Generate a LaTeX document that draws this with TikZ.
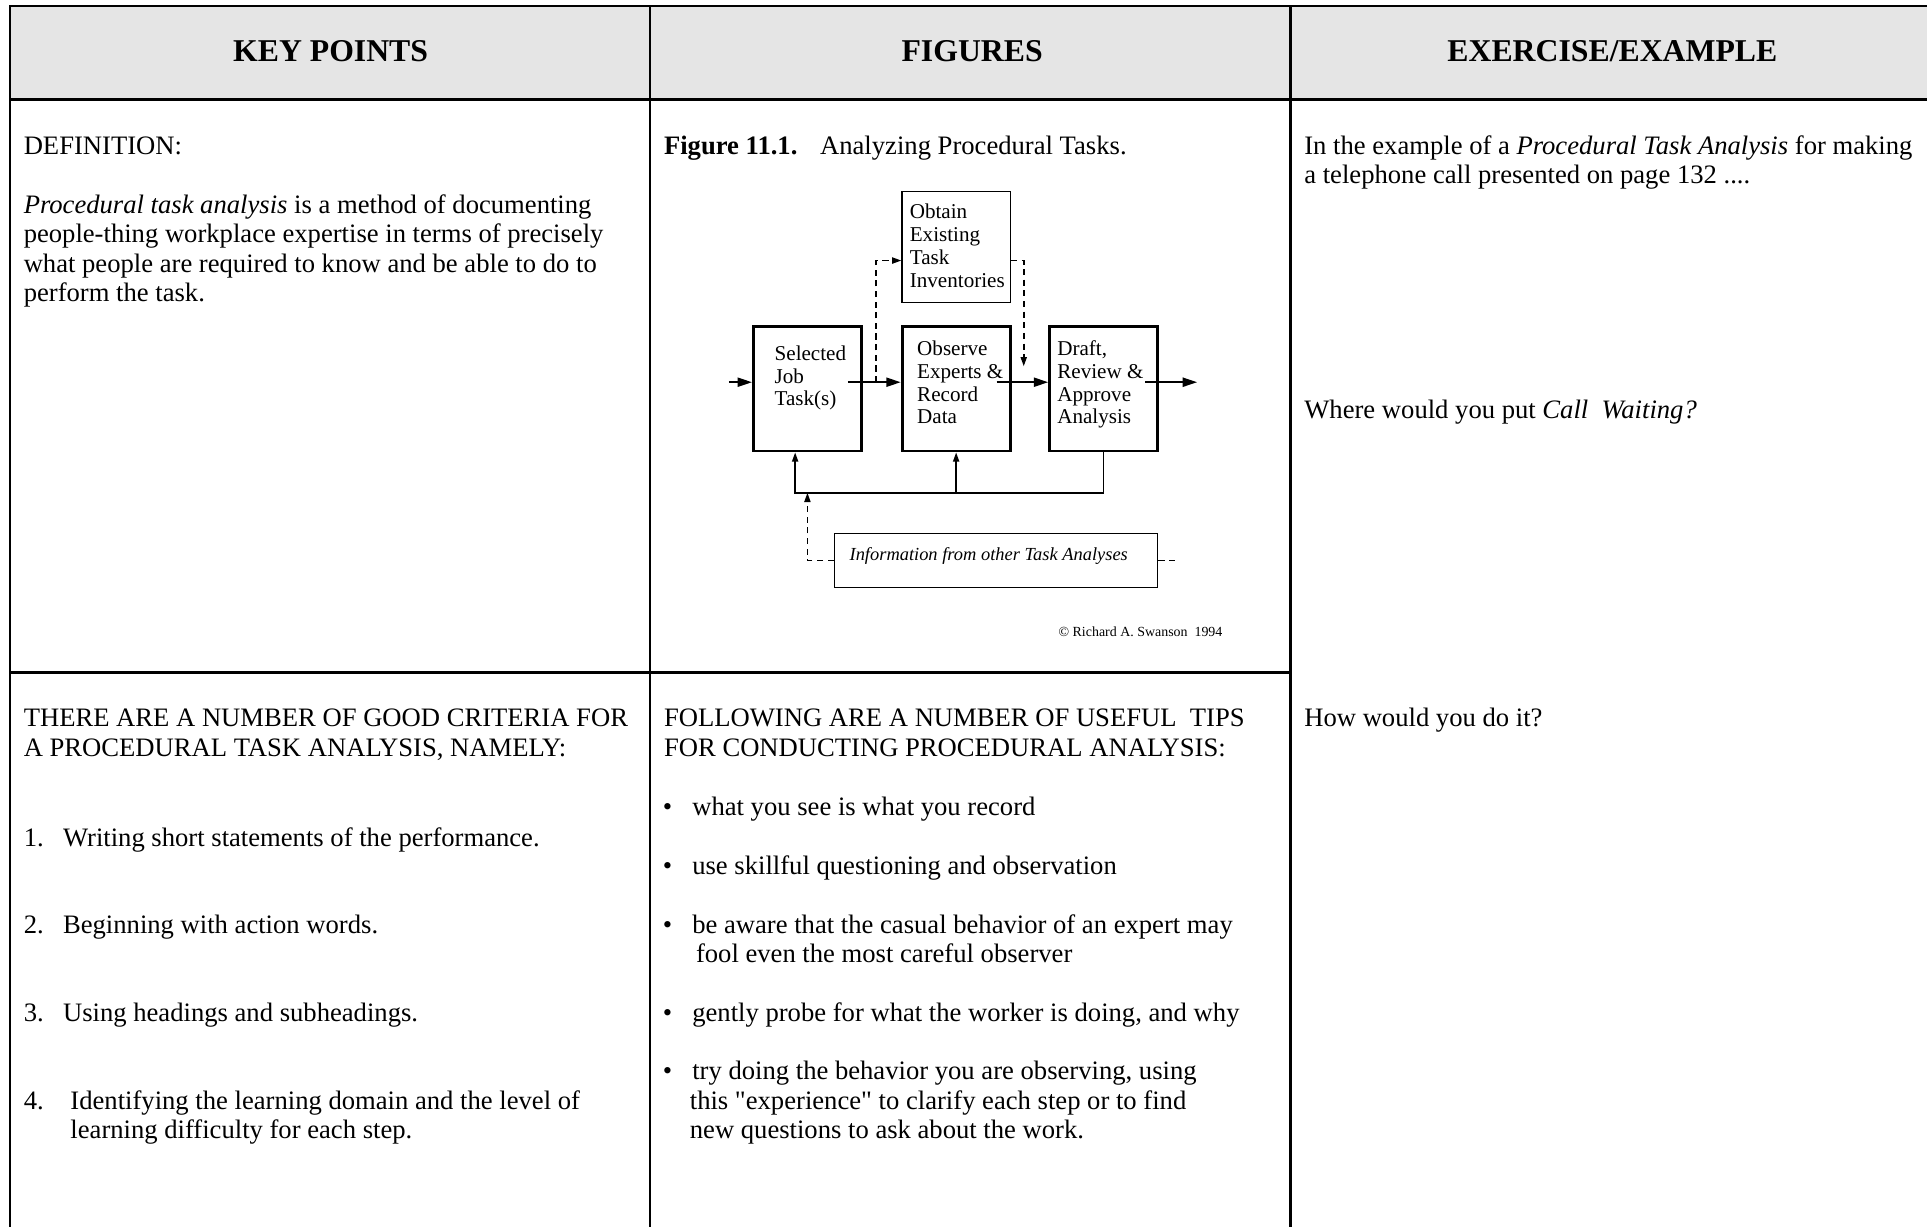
\documentclass[tikz,border=0pt]{standalone}
\usepackage{fontspec}
\setmainfont{Liberation Serif}
\usetikzlibrary{arrows.meta}
\definecolor{hdrgray}{RGB}{229,229,229}
\newcommand\lns[1]{\begin{tabular}[t]{@{}l@{}}#1\end{tabular}}
\newcommand\sq{\XeTeXglyph\XeTeXcharglyph"22\relax}
\tikzset{
 body/.style={anchor=base west, inner sep=0pt, font=\fontsize{13}{14.4}\selectfont},
 hdr/.style={anchor=base, inner sep=0pt, font=\fontsize{15.5}{18}\selectfont\bfseries},
 figtxt/.style={anchor=base west, inner sep=0pt, font=\fontsize{10.3}{11.2}\selectfont},
 tabrule/.style={line width=1.3pt, line join=miter},
 thickbox/.style={draw, line width=1.4pt, minimum width=52.8pt, minimum height=60.6pt, inner sep=0pt},
 thinbox/.style={draw, line width=0.7pt, inner sep=0pt},
 flow/.style={line width=0.75pt, -{Triangle[length=7pt,width=4.5pt]}},
 smallarr/.style={line width=0.75pt, -{Triangle[length=4.5pt,width=3pt]}},
 dsh/.style={line width=0.75pt, dash pattern=on 3pt off 2.2pt},
}
\begin{document}
\begin{tikzpicture}[x=0.6pt,y=-0.6pt]
\useasboundingbox (0,0) rectangle (1568,998);
% header background
\fill[hdrgray] (8,5) rectangle (1568,81);
% table rules
\draw[tabrule] (1568,5) -- (8,5) -- (8,998);
\draw[tabrule] (8,81) -- (1568,81);
\draw[tabrule] (529,5) -- (529,998);
\draw[tabrule] (1050,5) -- (1050,998);
\draw[tabrule] (8,547) -- (1050,547);
% headers
\node[hdr] (h1) at (269,50) {KEY POINTS};
\node[hdr] (h2) at (791,50) {FIGURES};
\node[hdr] (h3) at (1312,50) {EXERCISE/EXAMPLE};
% column 1
\node[body] (def) at (19,125.5) {DEFINITION:};
\node[body] (par) at (19,173.5) {\lns{\textit{Procedural task analysis} is a method of documenting\\ people-thing workplace expertise in terms of precisely\\ what people are required to know and be able to do to\\ perform the task.}};
\node[body] (crit) at (19,591.5) {\lns{THERE ARE A NUMBER OF GOOD CRITERIA FOR\\ A PROCEDURAL TASK ANALYSIS, NAMELY:}};
\node[body] (n1) at (19,688.5) {1.};
\node[body] (t1) at (51,688.5) {Writing short statements of the performance.};
\node[body] (n2) at (19,759.5) {2.};
\node[body] (t2) at (51,759.5) {Beginning with action words.};
\node[body] (n3) at (19,831.5) {3.};
\node[body] (t3) at (51,831.5) {Using headings and subheadings.};
\node[body] (n4) at (19,902.5) {4.};
\node[body] (t4) at (57,902.5) {\lns{Identifying the learning domain and the level of\\ learning difficulty for each step.}};
% column 2
\node[body] (fig1) at (540,125.5) {\textbf{Figure 11.1.}};
\node[body] (fig2) at (667,125.5) {Analyzing Procedural Tasks.};
\node[body] (tips) at (540,591.5) {\lns{FOLLOWING ARE A NUMBER OF USEFUL\ \ TIPS\\ FOR CONDUCTING PROCEDURAL ANALYSIS:}};
\node[body] (b1) at (539,663.5) {\textbullet};
\node[body] (bt1) at (563,663.5) {what you see is what you record};
\node[body] (b2) at (539,711.5) {\textbullet};
\node[body] (bt2) at (563,711.5) {use skillful questioning and observation};
\node[body] (b3) at (539,759.5) {\textbullet};
\node[body] (bt3) at (563,759.5) {\lns{be aware that the casual behavior of an expert may\\ \hspace{1.8pt}fool even the most careful observer}};
\node[body] (b4) at (539,831.5) {\textbullet};
\node[body] (bt4) at (563,831.5) {gently probe for what the worker is doing, and why};
\node[body] (b5) at (539,878.5) {\textbullet};
\node[body] (bt5) at (561,878.5) {\lns{\hspace{1.2pt}try doing the behavior you are observing, using\\ this \sq experience\sq{} to clarify each step or to find\\ new questions to ask about the work.}};
% column 3
\node[body] (ex) at (1061,125.5) {\lns{In the example of a \textit{Procedural Task Analysis} for making\\ a telephone call presented on page 132 ....}};
\node[body] (wh) at (1061,340.5) {Where would you put \textit{Call\ \ Waiting?}};
\node[body] (how) at (1061,591.5) {How would you do it?};
% figure boxes
\node[thinbox, minimum width=52.8pt, minimum height=54pt] (obt) at (778,201) {};
\node[thickbox] (sel) at (657,316.5) {};
\node[thickbox] (obs) at (778,316.5) {};
\node[thickbox] (dra) at (898,316.5) {};
\node[thinbox, minimum width=157.8pt, minimum height=26.4pt] (inf) at (810.5,456) {};
\node[figtxt] (obtt) at (740,178) {\lns{Obtain\\Existing\\Task\\Inventories}};
\node[figtxt] (selt) at (630,293) {\lns{Selected\\Job\\Task(s)}};
\node[figtxt] (obst) at (746,289) {\lns{Observe\\Experts \&\\Record\\Data}};
\node[figtxt] (drat) at (860,289) {\lns{Draft,\\Review \&\\Approve\\Analysis}};
\node[anchor=base west, inner sep=0pt, font=\fontsize{9}{10}\selectfont\itshape] (inft) at (691,456) {Information from other Task Analyses};
\node[anchor=base east, inner sep=0pt, font=\fontsize{6.8}{8}\selectfont] (copy) at (995,518) {© Richard A. Swanson\ \ 1994};
% connectors
\coordinate (in0) at (593,311);
\coordinate (s1) at (690,311);
\coordinate (o1) at (811,311);
\coordinate (d1) at (932,311);
\coordinate (out) at (974,311);
\draw[flow] (in0) -- (sel.west |- in0);
\draw[flow] (s1) -- (obs.west |- s1);
\draw[flow] (o1) -- (dra.west |- o1);
\draw[flow] (d1) -- (out);
\coordinate (dup) at (713,311);
\coordinate (ddn) at (833,298);
\draw[dsh, smallarr] (dup) |- ([yshift=-6.6pt]obt.west);
\draw[dsh, smallarr] ([yshift=-6.6pt]obt.east) -| (ddn);
\coordinate (fbl) at (647,401);
\draw[smallarr] (dra.south) -- (dra.south |- fbl) -- (fbl) -- (sel.south -| fbl);
\draw[smallarr] (obs.south |- fbl) -- (obs.south);
\coordinate (fbin) at (657,401);
\coordinate (stub) at (958,456);
\draw[dsh, smallarr] (inf.west) -| (fbin);
\draw[dsh] (inf.east) -- (stub);
\end{tikzpicture}
\end{document}
